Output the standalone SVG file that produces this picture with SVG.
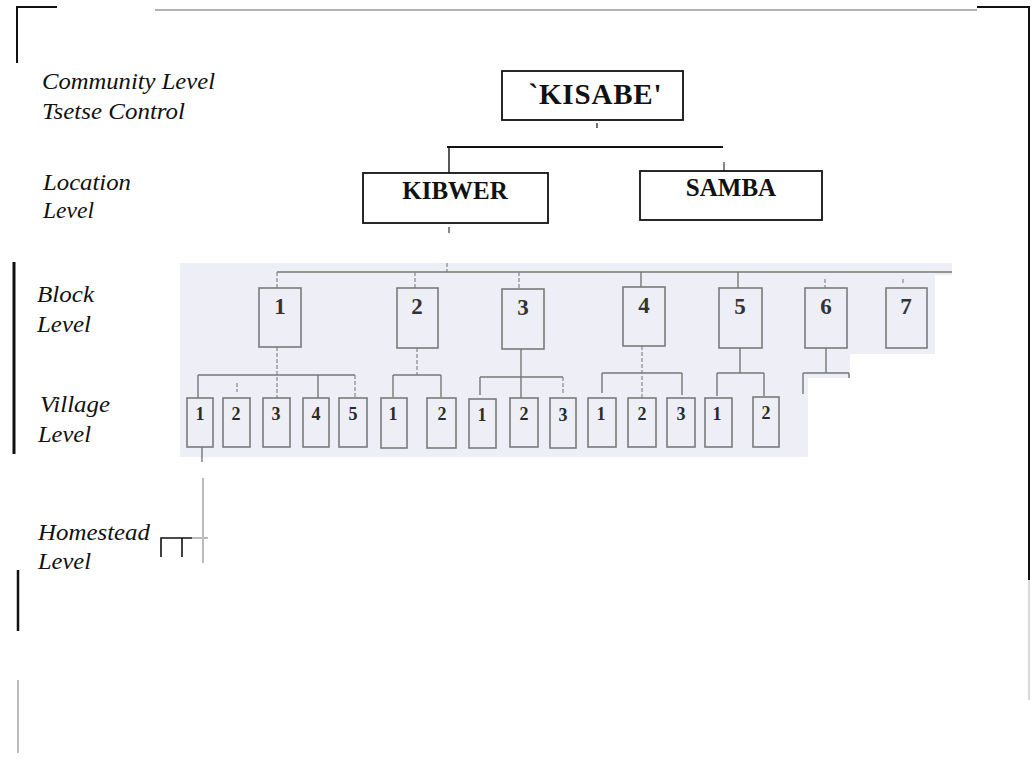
<svg xmlns="http://www.w3.org/2000/svg" width="1034" height="771" viewBox="0 0 1034 771">
<style>
.lbl{font-family:"Liberation Serif",serif;font-style:italic;font-size:23px;fill:#111}
.big{font-family:"Liberation Serif",serif;font-weight:bold;font-size:25px;fill:#111;text-anchor:middle}
.kis{font-size:29px}
.bx{fill:#fff;stroke:#111;stroke-width:1.8}
.blk{fill:none;stroke:#7a7a7a;stroke-width:1.6}
.bt{font-family:"Liberation Serif",serif;font-size:23px;font-weight:bold;fill:#333;text-anchor:middle}
.vt{font-family:"Liberation Serif",serif;font-size:18px;font-weight:bold;fill:#2a2a2a;text-anchor:middle}
.ln{stroke:#777;stroke-width:1.4;fill:none}
.dl{stroke:#888;stroke-width:1.2;fill:none;stroke-dasharray:4 2}
.bk{stroke:#111;stroke-width:2;fill:none}
</style>
<rect x="0" y="0" width="1034" height="771" fill="#fff"/>
<g id="frame">
<path class="bk" d="M17 63 V7 H57"/>
<line x1="155" y1="10" x2="977" y2="10" stroke="#999" stroke-width="1.5"/>
<path class="bk" d="M977 7 H1029 V580" stroke-width="2.5"/>
<line x1="1029" y1="580" x2="1029" y2="700" stroke="#ccc" stroke-width="1.5"/>
<line x1="14" y1="262" x2="14" y2="454" stroke="#111" stroke-width="3"/>
<line x1="18" y1="570" x2="18" y2="631" stroke="#111" stroke-width="2.5"/>
<line x1="18" y1="680" x2="18" y2="753" stroke="#bbb" stroke-width="2"/>
</g>
<polygon points="180,263 952,263 952,275 935,275 935,354 850,354 850,378 808,378 808,457 180,457" fill="#eeeef7"/>
<g id="labels">
<text class="lbl" x="42" y="89" textLength="173" lengthAdjust="spacingAndGlyphs">Community Level</text>
<text class="lbl" x="42" y="119" textLength="143" lengthAdjust="spacingAndGlyphs">Tsetse Control</text>
<text class="lbl" x="43" y="190" textLength="88" lengthAdjust="spacingAndGlyphs">Location</text>
<text class="lbl" x="43" y="218" textLength="51" lengthAdjust="spacingAndGlyphs">Level</text>
<text class="lbl" x="37" y="302" textLength="57" lengthAdjust="spacingAndGlyphs">Block</text>
<text class="lbl" x="37" y="332" textLength="54" lengthAdjust="spacingAndGlyphs">Level</text>
<text class="lbl" x="40" y="412" textLength="70" lengthAdjust="spacingAndGlyphs">Village</text>
<text class="lbl" x="38" y="442" textLength="53" lengthAdjust="spacingAndGlyphs">Level</text>
<text class="lbl" x="38" y="540" textLength="112" lengthAdjust="spacingAndGlyphs">Homestead</text>
<text class="lbl" x="38" y="569" textLength="53" lengthAdjust="spacingAndGlyphs">Level</text>
</g>
<g id="connectors">
<line x1="597" y1="123" x2="597" y2="128" stroke="#111" stroke-width="1.2"/>
<line x1="447" y1="147" x2="723" y2="147" stroke="#111" stroke-width="1.8"/>
<line x1="449" y1="147" x2="449" y2="173" stroke="#111" stroke-width="1.4"/>
<line x1="724" y1="162" x2="724" y2="171" stroke="#111" stroke-width="1"/>
<line x1="449" y1="227" x2="449" y2="233" stroke="#111" stroke-width="1"/>
<line x1="447" y1="263" x2="447" y2="272" class="dl"/>
<line x1="277" y1="272" x2="952" y2="272" class="ln"/>
<line x1="277" y1="272" x2="277" y2="288" class="dl"/>
<line x1="415" y1="272" x2="415" y2="288" class="dl"/>
<line x1="519" y1="272" x2="519" y2="289" class="dl"/>
<line x1="641" y1="272" x2="641" y2="287" class="ln"/>
<line x1="738" y1="272" x2="738" y2="288" class="ln"/>
<line x1="825" y1="279" x2="825" y2="288" class="dl"/>
<line x1="903" y1="279" x2="903" y2="284" class="dl"/>
<line x1="277" y1="347" x2="277" y2="398" class="dl"/>
<line x1="198" y1="375" x2="355" y2="375" class="ln"/>
<line x1="198" y1="375" x2="198" y2="398" class="ln"/>
<line x1="237" y1="383" x2="237" y2="392" class="dl"/>
<line x1="318" y1="375" x2="318" y2="398" class="ln"/>
<line x1="355" y1="375" x2="355" y2="398" class="dl"/>
<line x1="202" y1="447" x2="202" y2="462" class="ln"/>
<line x1="417" y1="348" x2="417" y2="375" class="dl"/>
<line x1="393" y1="375" x2="441" y2="375" class="ln"/>
<line x1="393" y1="375" x2="393" y2="397" class="ln"/>
<line x1="441" y1="375" x2="441" y2="397" class="ln"/>
<line x1="521" y1="349" x2="521" y2="398" class="ln"/>
<line x1="480" y1="377" x2="563" y2="377" class="ln"/>
<line x1="480" y1="377" x2="480" y2="395" class="ln"/>
<line x1="563" y1="377" x2="563" y2="395" class="dl"/>
<line x1="642" y1="346" x2="642" y2="398" class="dl"/>
<line x1="602" y1="373" x2="682" y2="373" class="ln"/>
<line x1="602" y1="373" x2="602" y2="393" class="ln"/>
<line x1="682" y1="373" x2="682" y2="395" class="ln"/>
<line x1="740" y1="348" x2="740" y2="373" class="ln"/>
<line x1="717" y1="373" x2="764" y2="373" class="ln"/>
<line x1="717" y1="373" x2="717" y2="396" class="ln"/>
<line x1="764" y1="373" x2="764" y2="396" class="ln"/>
<line x1="826" y1="348" x2="826" y2="373" class="ln"/>
<line x1="803" y1="373" x2="849" y2="373" class="ln"/>
<line x1="803" y1="373" x2="803" y2="394" class="ln"/>
<line x1="849" y1="373" x2="849" y2="378" class="ln"/>
<line x1="203" y1="478" x2="203" y2="563" stroke="#bbb" stroke-width="2"/>
<line x1="192" y1="538" x2="208" y2="538" stroke="#bbb" stroke-width="2"/>
<path d="M161 557 V538 H192 M182 538 V557" stroke="#111" stroke-width="1.6" fill="none"/>
</g>
<g id="kisabe"><rect class="bx" x="502" y="71" width="181" height="49"/><text class="big kis" x="595" y="104" textLength="133" lengthAdjust="spacing">`KISABE'</text></g>
<g id="kibwer"><rect class="bx" x="363" y="173" width="185" height="50"/><text class="big" x="455" y="199">KIBWER</text></g>
<g id="samba"><rect class="bx" x="640" y="171" width="182" height="49"/><text class="big" x="731" y="196">SAMBA</text></g>
<g id="block1"><rect class="blk" x="259" y="288" width="42" height="59"/><text class="bt" x="280" y="314">1</text></g>
<g id="block2"><rect class="blk" x="397" y="288" width="41" height="60"/><text class="bt" x="417" y="314">2</text></g>
<g id="block3"><rect class="blk" x="502" y="289" width="42" height="60"/><text class="bt" x="523" y="315">3</text></g>
<g id="block4"><rect class="blk" x="623" y="287" width="42" height="59"/><text class="bt" x="644" y="313">4</text></g>
<g id="block5"><rect class="blk" x="719" y="288" width="43" height="60"/><text class="bt" x="740" y="314">5</text></g>
<g id="block6"><rect class="blk" x="805" y="288" width="42" height="60"/><text class="bt" x="826" y="314">6</text></g>
<g id="block7"><rect class="blk" x="886" y="288" width="41" height="60"/><text class="bt" x="906" y="314">7</text></g>
<g id="v1-1"><rect class="blk" x="187" y="398" width="26" height="49"/><text class="vt" x="200" y="420">1</text></g>
<g id="v1-2"><rect class="blk" x="223" y="398" width="27" height="49"/><text class="vt" x="236" y="420">2</text></g>
<g id="v1-3"><rect class="blk" x="263" y="398" width="27" height="49"/><text class="vt" x="276" y="420">3</text></g>
<g id="v1-4"><rect class="blk" x="303" y="398" width="26" height="49"/><text class="vt" x="316" y="420">4</text></g>
<g id="v1-5"><rect class="blk" x="339" y="398" width="28" height="49"/><text class="vt" x="353" y="420">5</text></g>
<g id="v2-1"><rect class="blk" x="381" y="398" width="26" height="50"/><text class="vt" x="393" y="420">1</text></g>
<g id="v2-2"><rect class="blk" x="427" y="398" width="29" height="50"/><text class="vt" x="442" y="420">2</text></g>
<g id="v3-1"><rect class="blk" x="469" y="399" width="27" height="49"/><text class="vt" x="482" y="421">1</text></g>
<g id="v3-2"><rect class="blk" x="510" y="398" width="28" height="49"/><text class="vt" x="524" y="420">2</text></g>
<g id="v3-3"><rect class="blk" x="550" y="398" width="26" height="50"/><text class="vt" x="563" y="421">3</text></g>
<g id="v4-1"><rect class="blk" x="588" y="398" width="28" height="49"/><text class="vt" x="601" y="420">1</text></g>
<g id="v4-2"><rect class="blk" x="628" y="398" width="28" height="49"/><text class="vt" x="642" y="420">2</text></g>
<g id="v4-3"><rect class="blk" x="667" y="398" width="28" height="49"/><text class="vt" x="681" y="420">3</text></g>
<g id="v5-1"><rect class="blk" x="705" y="398" width="27" height="49"/><text class="vt" x="717" y="420">1</text></g>
<g id="v5-2"><rect class="blk" x="753" y="397" width="26" height="50"/><text class="vt" x="766" y="419">2</text></g>
</svg>
